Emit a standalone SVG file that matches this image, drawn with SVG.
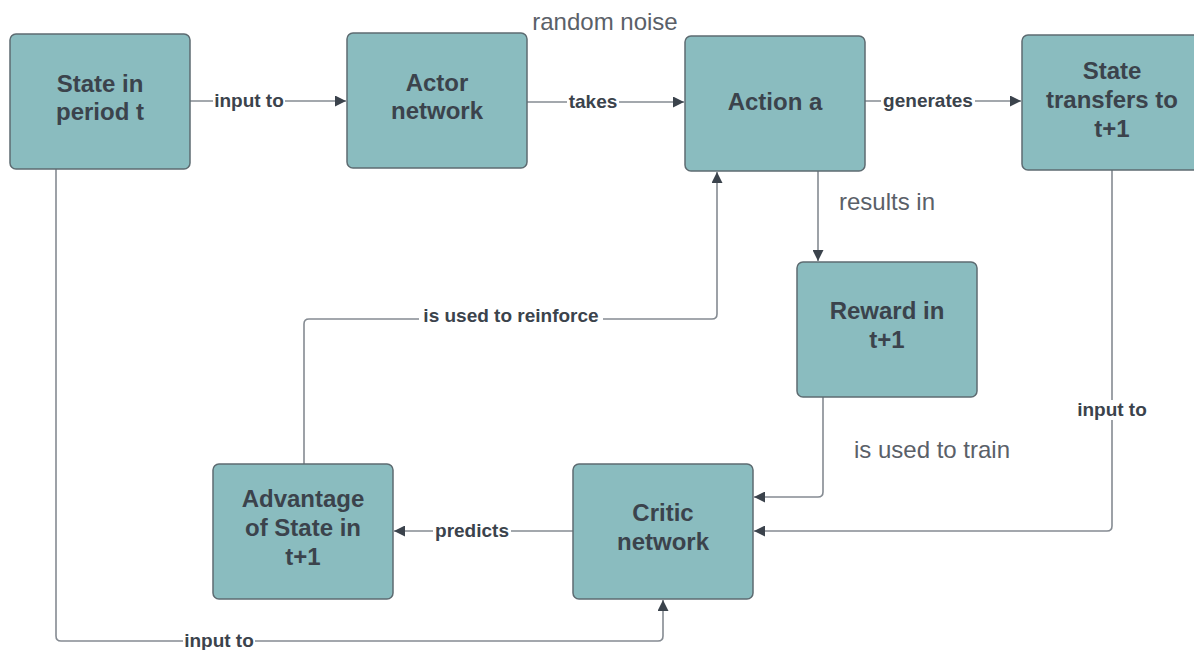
<svg xmlns="http://www.w3.org/2000/svg" width="1194" height="650" viewBox="0 0 1194 650">
<style>
.node rect{fill:#8abcbf;stroke:#5d6b71;stroke-width:1.5}
.node text{font-family:"Liberation Sans",Arial,sans-serif;font-weight:bold;font-size:24px;fill:#3b434c;text-anchor:middle}
.edge{fill:none;stroke:#858b92;stroke-width:1.6}
.lbl{font-family:"Liberation Sans",Arial,sans-serif;font-weight:bold;font-size:19px;fill:#3b434c;text-anchor:middle}
.bg{fill:#ffffff}
.free{font-family:"Liberation Sans",Arial,sans-serif;font-size:24px;fill:#5a6068;text-anchor:middle}
</style>
<defs>
<marker id="ah" viewBox="0 0 10 10" refX="10" refY="5" markerWidth="11" markerHeight="11" markerUnits="userSpaceOnUse" orient="auto"><path d="M0,0 L10,5 L0,10 z" fill="#3b434c"/></marker>
</defs>
<rect width="1194" height="650" fill="#ffffff"/>
<g id="connectors">
<path class="edge" d="M190,101 H346" marker-end="url(#ah)"/>
<path class="edge" d="M527,102 H684" marker-end="url(#ah)"/>
<path class="edge" d="M865,101 H1021" marker-end="url(#ah)"/>
<path class="edge" d="M818,171 V261" marker-end="url(#ah)"/>
<path class="edge" d="M304,464 V324 Q304,319 309,319 H712 Q717,319 717,314 V172" marker-end="url(#ah)"/>
<path class="edge" d="M823,397 V492 Q823,497 818,497 H754" marker-end="url(#ah)"/>
<path class="edge" d="M1112,170 V526 Q1112,531 1107,531 H754" marker-end="url(#ah)"/>
<path class="edge" d="M573,531 H394" marker-end="url(#ah)"/>
<path class="edge" d="M56,169 V636 Q56,641 61,641 H658 Q663,641 663,636 V600" marker-end="url(#ah)"/>
<rect class="bg" x="213" y="91" width="72" height="20"/>
<text class="lbl" x="249" y="107">input to</text>
<rect class="bg" x="567" y="92" width="52" height="20"/>
<text class="lbl" x="593" y="108">takes</text>
<rect class="bg" x="881" y="91" width="94" height="20"/>
<text class="lbl" x="928" y="107">generates</text>
<rect class="bg" x="419" y="309" width="184" height="20"/>
<text class="lbl" x="511" y="322">is used to reinforce</text>
<rect class="bg" x="1076" y="400" width="72" height="20"/>
<text class="lbl" x="1112" y="416">input to</text>
<rect class="bg" x="433" y="521" width="78" height="20"/>
<text class="lbl" x="472" y="537">predicts</text>
<rect class="bg" x="183" y="631" width="72" height="19"/>
<text class="lbl" x="219" y="647">input to</text>
</g>
<text class="free" x="605" y="30">random noise</text>
<text class="free" x="887" y="210">results in</text>
<text class="free" x="932" y="458">is used to train</text>
<g id="state_t" class="node"><rect x="10" y="34" width="180" height="135" rx="6"/><text x="100" y="92">State in</text><text x="100" y="120">period t</text></g>
<g id="actor" class="node"><rect x="347" y="33" width="180" height="135" rx="6"/><text x="437" y="91">Actor</text><text x="437" y="119">network</text></g>
<g id="action" class="node"><rect x="685" y="36" width="180" height="135" rx="6"/><text x="775" y="110">Action a</text></g>
<g id="state_t1" class="node"><rect x="1022" y="35" width="180" height="135" rx="6"/><text x="1112" y="79">State</text><text x="1112" y="108">transfers to</text><text x="1112" y="137">t+1</text></g>
<g id="reward" class="node"><rect x="797" y="262" width="180" height="135" rx="6"/><text x="887" y="319">Reward in</text><text x="887" y="348">t+1</text></g>
<g id="advantage" class="node"><rect x="213" y="464" width="180" height="135" rx="6"/><text x="303" y="507">Advantage</text><text x="303" y="536">of State in</text><text x="303" y="565">t+1</text></g>
<g id="critic" class="node"><rect x="573" y="464" width="180" height="135" rx="6"/><text x="663" y="521">Critic</text><text x="663" y="550">network</text></g>
</svg>
